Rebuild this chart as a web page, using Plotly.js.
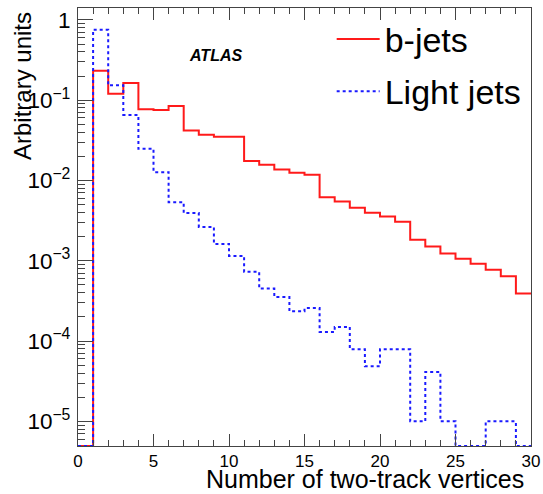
<!DOCTYPE html>
<html>
<head>
<meta charset="utf-8">
<script src="https://cdn.plot.ly/plotly-3.0.1.min.js"></script>
<style>html,body{margin:0;padding:0;background:#fff;}#chart{width:543px;height:494px;}</style>
</head>
<body>
<div id="chart"></div>
<script>
// Bin lower edges (number of two-track vertices), bin width 1
var binEdges = [0,1,2,3,4,5,6,7,8,9,10,11,12,13,14,15,16,17,18,19,20,21,22,23,24,25,26,27,28,29,30];

// b-jets (red, solid)
var bJets = [0, 0.233, 0.120, 0.164, 0.0771, 0.0757, 0.0849, 0.0419, 0.0371, 0.0350,
             0.0350, 0.0175, 0.0157, 0.0137, 0.0125, 0.0118, 0.00620, 0.00548, 0.00457, 0.00396,
             0.00356, 0.00306, 0.00183, 0.00151, 0.00123, 0.00106, 0.000920, 0.000775, 0.000640, 0.000390];

// Light jets (blue, dotted)
var lightJets = [0, 0.755, 0.153, 0.0656, 0.0248, 0.0127, 0.00537, 0.00394, 0.00264, 0.00162,
                 0.00115, 0.000728, 0.000450, 0.000354, 0.000235, 0.000258, 0.000130, 0.000150, 0.0000790, 0.0000486,
                 0.0000790, 0.0000790, 0.00001, 0.0000413, 0.00001, 0, 0, 0.00001, 0.00001, 0];

var seriesNames = ["b-jets", "Light jets"];
var xRange = [0, 30];
var yLogRange = [-5.307, 0.148];
var floorVal = Math.pow(10, yLogRange[0]);

function stepY(vals) {
  var out = vals.map(function (v) { return v > 0 ? v : floorVal; });
  out.push(out[out.length - 1]);
  return out;
}

var font = "Liberation Sans, Arial, Helvetica, sans-serif";
var axisCol = "#444";

var traces = [
  {
    x: binEdges, y: stepY(bJets), name: seriesNames[0], type: "scatter", mode: "lines",
    line: {shape: "hv", color: "#ff1a1a", width: 2}, legendgroup: "a"
  },
  {
    x: binEdges, y: stepY(lightJets), name: seriesNames[1], type: "scatter", mode: "lines",
    line: {shape: "hv", color: "#1a1aff", width: 2, dash: "dot"}, legendgroup: "b"
  },
  // empty helper trace so the minor-tick overlay axes are drawn
  {x: [], y: [], xaxis: "x2", yaxis: "y2", type: "scatter", mode: "lines", showlegend: false, hoverinfo: "skip"}
];

var layout = {
  width: 543, height: 494,
  margin: {l: 78, r: 12, t: 8, b: 48},
  paper_bgcolor: "#ffffff", plot_bgcolor: "#ffffff",
  font: {family: font, color: "#000"},
  showlegend: true,
  legend: {
    x: 0.56, y: 0.9946, xanchor: "left", yanchor: "top",
    bgcolor: "rgba(0,0,0,0)", borderwidth: 0, itemwidth: 43,
    font: {size: 34, family: font, color: "#000"},
    tracegroupgap: 5
  },
  xaxis: {
    range: xRange, showgrid: false, zeroline: false,
    linecolor: axisCol, linewidth: 1, mirror: "ticks",
    ticks: "inside", ticklen: 12, tickcolor: axisCol, dtick: 5, tick0: 0,
    tickfont: {size: 17, family: font, color: "#000"}
  },
  xaxis2: {
    range: xRange, overlaying: "x", anchor: "y", side: "bottom",
    showgrid: false, zeroline: false, showline: false, showticklabels: false,
    ticks: "inside", ticklen: 6, tickcolor: axisCol, dtick: 1, tick0: 0, mirror: "ticks"
  },
  yaxis: {
    type: "log", range: yLogRange, showgrid: false, zeroline: false,
    linecolor: axisCol, linewidth: 1, mirror: true,
    ticks: "inside", ticklen: 15, tickcolor: axisCol, dtick: 1,
    exponentformat: "power", ticklabelstandoff: 3,
    tickfont: {size: 18, family: font, color: "#000"}
  },
  yaxis2: {
    type: "log", range: yLogRange, overlaying: "y", anchor: "x", side: "left",
    showgrid: false, zeroline: false, showline: false, showticklabels: false,
    ticks: "inside", ticklen: 7, tickcolor: axisCol, dtick: "D1"
  },
  annotations: [
    {
      text: "Arbitrary units", xref: "paper", yref: "paper",
      x: (22 - 78) / 453, y: (446 - 10) / 438, xanchor: "center", yanchor: "top",
      textangle: -90, showarrow: false, font: {size: 24, family: font, color: "#000"}
    },
    {
      text: "Number of two-track vertices", xref: "paper", yref: "paper",
      x: (526 - 78) / 453, y: (446 - 479) / 438, xanchor: "right", yanchor: "middle",
      showarrow: false, font: {size: 25, family: font, color: "#000"}
    },
    {
      text: "<b><i>ATLAS</i></b>", xref: "paper", yref: "paper",
      x: (215 - 78) / 453, y: (446 - 55) / 438, xanchor: "center", yanchor: "middle",
      showarrow: false, font: {size: 16, family: font, color: "#000"}
    }
  ]
};

Plotly.newPlot("chart", traces, layout, {displayModeBar: false, staticPlot: true});
</script>
</body>
</html>
